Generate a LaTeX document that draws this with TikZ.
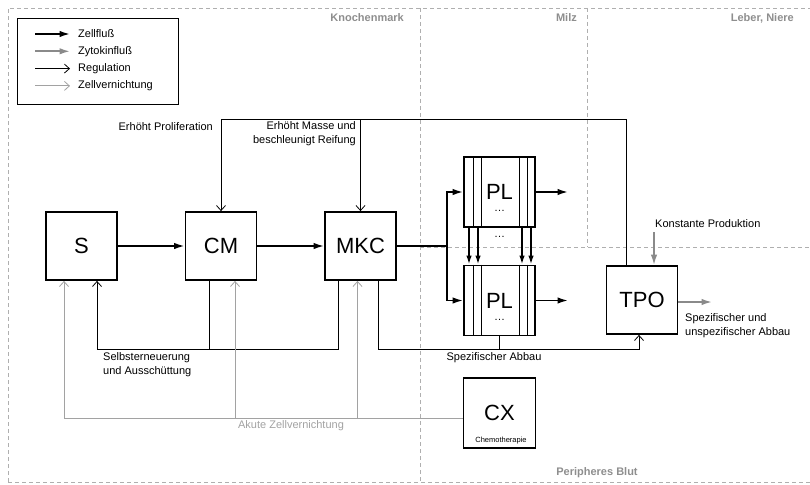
\documentclass[tikz,border=0pt]{standalone}
\usepackage{fontspec}
\setmainfont{Liberation Sans}
\usetikzlibrary{arrows.meta,positioning}
\definecolor{regiongray}{HTML}{AFAFAF}
\definecolor{cytogray}{HTML}{8A8A8A}
\definecolor{killgray}{HTML}{A2A2A2}
\definecolor{labelgray}{HTML}{8E8E8E}
\begin{document}
\begin{tikzpicture}[x=1pt, y=-1pt, node distance=139.5pt, font=\fontsize{11}{14}\selectfont]
      \tikzstyle{cell} = [rectangle, draw=black, line width=1.8pt, minimum width=71pt, minimum height=68pt, inner sep=0pt, font=\fontsize{22}{24}\selectfont]
      \tikzstyle{strip} = [line width=0.8pt]
      \tikzstyle{region} = [draw=regiongray, line width=0.8pt, dash pattern=on 4pt off 3pt]
      \tikzstyle{regionlabel} = [text=labelgray, inner sep=0pt, font=\fontsize{11}{14}\selectfont\bfseries]
      \tikzstyle{label} = [inner sep=0pt]
      \tikzstyle{flow} = [line width=1.7pt, -{Latex[length=10.5pt,width=6.5pt]}]
      \tikzstyle{cytokine} = [line width=1.7pt, cytogray, -{Latex[length=10.5pt,width=6.5pt]}]
      \tikzstyle{regulation} = [line width=0.8pt, -{Straight Barb[length=5pt,width=9pt]}]
      \tikzstyle{kill} = [line width=0.8pt, killgray, -{Straight Barb[length=5pt,width=9pt]}]

      \useasboundingbox (0,0) rectangle (810,484);

      \draw [region] (8,482) -- (8,8) -- (810,8);
      \draw [region] (8,482) -- (810,482);
      \draw [region] (420,8) -- (420,482);
      \draw [region] (587,8) -- (587,247);
      \draw [region] (420,247) -- (810,247);
      \node (knochenmark) [regionlabel, anchor=east] at (404,18) {Knochenmark};
      \node (milz) [regionlabel, anchor=east] at (577,18) {Milz};
      \node (leber) [regionlabel, anchor=east] at (794,18) {Leber, Niere};
      \node (blut) [regionlabel] at (597,473) {Peripheres Blut};

      \node (legend) [draw, line width=0.8pt, minimum width=161pt, minimum height=86pt, anchor=north west] at (17,18) {};
      \foreach \i/\s/\t in {0/flow/Zellfluß, 1/cytokine/Zytokinfluß, 2/regulation/Regulation, 3/kill/Zellvernichtung} {
        \coordinate (key-\i-a) at (35,{34+17.3*\i});
        \coordinate (key-\i-b) at (70,{34+17.3*\i});
        \draw [\s] (key-\i-a) -- (key-\i-b);
        \node (key-\i-text) [label, anchor=west] at (78,{34+17.3*\i}) {\t};
      }

      \node (s) [cell] at (81.5,246) {S};
      \node (cm) [cell, right of=s] {CM};
      \node (mkc) [cell, right of=cm] {MKC};
      \node (pl-top) [cell, minimum height=70pt] at (499.5,192) {PL};
      \node (pl-bottom) [cell, minimum height=70pt] at (499.5,300.5) {PL};
      \node (tpo) [cell] at (642,300) {TPO};
      \node (cx) [cell, minimum width=72pt, minimum height=70pt] at (499.5,413) {CX};
      \node (cx-note) [label, font=\fontsize{7.5}{9}\selectfont] at (501,441) {Chemotherapie};

      \foreach \n in {pl-top, pl-bottom} {
        \draw [strip] ([xshift=10pt]\n.north west) -- ([xshift=10pt]\n.south west);
        \draw [strip] ([xshift=18pt]\n.north west) -- ([xshift=18pt]\n.south west);
        \draw [strip] ([xshift=-17pt]\n.north east) -- ([xshift=-17pt]\n.south east);
        \draw [strip] ([xshift=-9pt]\n.north east) -- ([xshift=-9pt]\n.south east);
        \node (\n-dots) [label] at ([yshift=-19pt]\n.center) {\dots};
      }
      \node (pl-dots) [label] at (499.5,237) {\dots};

      \draw [flow] (s) -- (cm);
      \draw [flow] (cm) -- (mkc);
      \coordinate (split) at (447,246);
      \draw [line width=1.7pt] (mkc.east) -- (split);
      \draw [flow] (split) |- (pl-top.west);
      \draw [flow] (split) |- (pl-bottom.west);
      \foreach \dx in {-30.5,-21.5,22.5,31.5}
        \draw [flow, -{Latex[length=9pt,width=5.5pt]}] ([xshift=\dx pt]pl-top.south) -- ([xshift=\dx pt]pl-bottom.north);
      \coordinate (pl-top-out) at (568,192);
      \coordinate (pl-bottom-out) at (568,300.5);
      \draw [flow] (pl-top) -- (pl-top-out);
      \draw [flow] (pl-bottom) -- (pl-bottom-out);

      \coordinate (reg-line) at (0,119);
      \draw [regulation] ([xshift=-16pt]tpo.north) |- (reg-line -| cm.north) -- (cm.north);
      \draw [regulation] (reg-line -| mkc.north) -- (mkc.north);
      \node (prolif) [label, anchor=east] at (213,127) {Erhöht Proliferation};
      \node (mass) [label, anchor=north east, align=right] at (356,121) {Erhöht Masse und\\beschleunigt Reifung};

      \coordinate (low-line) at (0,349);
      \coordinate (s-renew) at ([xshift=15.5pt]s.south);
      \coordinate (cm-renew) at ([xshift=-12pt]cm.south);
      \coordinate (mkc-renew) at ([xshift=-22.5pt]mkc.south);
      \draw [regulation] (mkc-renew) |- (s-renew |- low-line) -- (s-renew);
      \draw [line width=0.8pt] (cm-renew) -- (cm-renew |- low-line);
      \node (renew) [label, anchor=north west, align=left] at (103,352) {Selbsterneuerung\\und Ausschüttung};

      \coordinate (mkc-decay) at ([xshift=18pt]mkc.south);
      \coordinate (tpo-decay) at ([xshift=-3pt]tpo.south);
      \draw [regulation] (mkc-decay) |- (tpo-decay |- low-line) -- (tpo-decay);
      \draw [line width=0.8pt] (pl-bottom.south) -- (pl-bottom.south |- low-line);
      \node (decay) [label] at (494,358) {Spezifischer Abbau};

      \coordinate (s-kill) at ([xshift=-17.5pt]s.south);
      \coordinate (cm-kill) at ([xshift=14pt]cm.south);
      \coordinate (mkc-kill) at ([xshift=-3pt]mkc.south);
      \coordinate (kill-line) at (0,418);
      \draw [kill] (cx.west |- kill-line) -| (s-kill);
      \draw [kill] (cm-kill |- kill-line) -- (cm-kill);
      \draw [kill] (mkc-kill |- kill-line) -- (mkc-kill);
      \node (acute) [label, text=killgray] at (291,426) {Akute Zellvernichtung};

      \coordinate (supply) at (654,232);
      \draw [cytokine] (supply) -- (supply |- tpo.north);
      \node (supply-label) [label, anchor=west] at (655,224) {Konstante Produktion};
      \coordinate (tpo-out) at (712,302);
      \draw [cytokine] (tpo.east |- tpo-out) -- (tpo-out);
      \node (abbau) [label, anchor=north west, align=left] at (685,313) {Spezifischer und\\unspezifischer Abbau};
    \end{tikzpicture}
\end{document}
